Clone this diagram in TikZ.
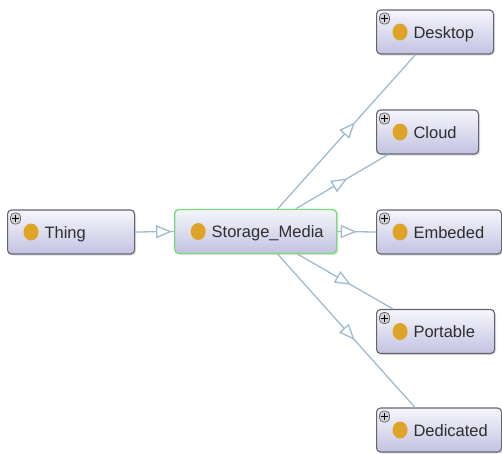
\documentclass[tikz,border=0pt]{standalone}
\usepackage{fontspec}
\setmainfont{Liberation Sans}
\usepackage{tikz}
\usetikzlibrary{arrows.meta,decorations.markings,shadows,positioning}

\definecolor{linkblue}{RGB}{160,186,208}
\definecolor{boxtop}{RGB}{246,246,252}
\definecolor{boxbot}{RGB}{194,194,226}
\definecolor{boxline}{RGB}{100,100,112}
\definecolor{rootline}{RGB}{120,220,120}
\definecolor{dotorange}{RGB}{222,164,40}

% orange class dot and the small expand box
\newcommand{\owldot}{\fill[dotorange] ([xshift=23.5pt]path picture bounding box.west) ellipse [x radius=7.5pt, y radius=8.5pt];}
\newcommand{\owlplus}{%
  \draw[boxline, fill=black!18, line width=0.7pt] ([shift={(3,3)}]path picture bounding box.north west) rectangle ++(10,11);
  \draw[black, line width=1pt] ([shift={(8,5)}]path picture bounding box.north west) -- ++(0,7)
    ([shift={(4.5,8.5)}]path picture bounding box.north west) -- ++(7,0);}

\begin{document}
\begin{tikzpicture}[x=1pt, y=-1pt,
  owlclass/.style={draw=boxline, line width=1.1pt, rounded corners=4pt,
    top color=boxtop, bottom color=boxbot,
    drop shadow={shadow xshift=1.5pt, shadow yshift=-1.5pt, opacity=.25},
    minimum height=44pt, text width=#1, inner xsep=0pt, align=left,
    text height=12pt, text depth=0pt, anchor=west,
    font=\fontsize{16.5}{19}\selectfont, text=black!82,
    execute at begin node={\hspace*{37pt}},
    path picture={\owldot\owlplus}},
  rootclass/.style={owlclass=#1, draw=rootline, line width=1.4pt, path picture={\owldot}},
  isa/.style={draw=linkblue, line width=1.3pt, postaction={decorate},
    decoration={markings, mark=at position #1 with {\arrow{Triangle[open, length=16pt, width=13pt, fill=white]}}}},
  isa/.default=0.56]
\useasboundingbox (0,0) rectangle (502,453);
%
\node[owlclass=127pt] (thing) at (7,232) {Thing};
\node[rootclass=162pt] (storage) at (174,231.5) {Storage\_Media};
%
\node[owlclass=117pt] (desktop) at (376,32) {Desktop};
\node[owlclass=102pt] (cloud) at (376,132) {Cloud};
\node[owlclass=125pt] (embeded) at (376,232) {Embeded};
\node[owlclass=118pt] (portable) at (376,331.5) {Portable};
\node[owlclass=125pt] (dedicated) at (376,430) {Dedicated};
%
\draw[isa=0.95] (thing.east) -- (storage.west);
\draw[isa] ([xshift=22pt]storage.north) -- ([xshift=-19.5pt]desktop.south);
\draw[isa] ([xshift=40pt]storage.north) -- ([xshift=12pt]cloud.south west);
\draw[isa=0.5] (storage.east) -- (embeded.west);
\draw[isa] ([xshift=42pt]storage.south) -- ([xshift=17pt]portable.north west);
\draw[isa] ([xshift=22pt]storage.south) -- ([xshift=39pt]dedicated.north west);
%%%%%%%%%%%%%%%%%%%%%%%%%%%%%%%
\end{tikzpicture}
\end{document}
